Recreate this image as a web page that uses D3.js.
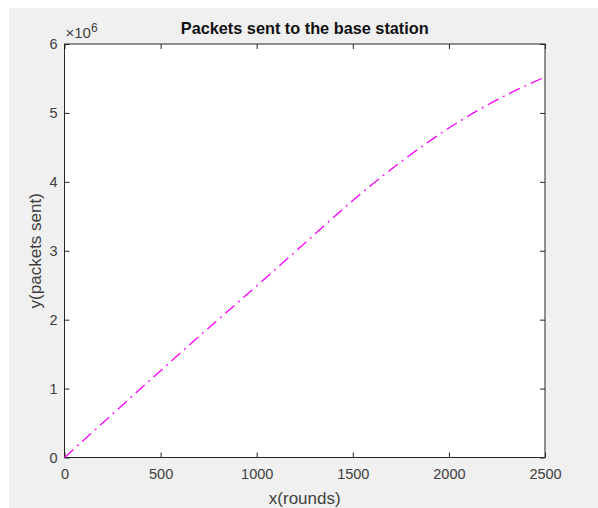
<!DOCTYPE html>
<html>
<head>
<meta charset="utf-8">
<script src="https://cdn.jsdelivr.net/npm/d3@7"></script>
<style>
  html, body { margin: 0; padding: 0; background: #ffffff; overflow: hidden; }
  svg { display: block; font-family: "Liberation Sans", Arial, sans-serif; }
  .tick text { font-size: 14.5px; fill: #404040; }
</style>
</head>
<body>
<div id="chart"></div>
<script>
// data
const rounds = [0, 250, 500, 750, 1000, 1250, 1500, 1750, 2000, 2250, 2500];
const packets = [0, 0.63e6, 1.26e6, 1.88e6, 2.49e6, 3.11e6, 3.73e6, 4.29e6, 4.78e6, 5.19e6, 5.52e6];
const xTicks = [0, 500, 1000, 1500, 2000, 2500];
const yTicks = [0, 1e6, 2e6, 3e6, 4e6, 5e6, 6e6];

const width = 598, height = 508;
const margin = { left: 64.5, top: 44, right: 53, bottom: 50.5 };
const innerWidth = width - margin.left - margin.right;
const innerHeight = height - margin.top - margin.bottom;

const svg = d3.select("#chart")
  .append("svg")
  .attr("width", width)
  .attr("height", height);

// figure background
svg.append("rect")
  .attr("x", 9).attr("y", 8)
  .attr("width", width - 9).attr("height", height - 8)
  .attr("fill", "#f0f0f0");

const inner = svg.append("g")
  .attr("transform", `translate(${margin.left},${margin.top})`);

const xScale = d3.scaleLinear().domain([0, 2500]).range([0, innerWidth]);
const yScale = d3.scaleLinear().domain([0, 6e6]).range([innerHeight, 0]);

inner.append("rect")
  .attr("width", innerWidth).attr("height", innerHeight)
  .attr("fill", "#ffffff");

// axes, ticks pointing inward like MATLAB
const axisColor = "#262626";
const styleAxis = g => {
  g.select(".domain").remove();
  g.selectAll(".tick line").attr("stroke", axisColor);
};

inner.append("g")
  .attr("transform", `translate(0,${innerHeight})`)
  .call(d3.axisBottom(xScale).tickValues(xTicks).tickSize(-5).tickPadding(11)
    .tickFormat(d3.format("d")))
  .call(styleAxis);

inner.append("g")
  .call(d3.axisTop(xScale).tickValues(xTicks).tickSize(-5).tickFormat(""))
  .call(styleAxis);

inner.append("g")
  .call(d3.axisLeft(yScale).tickValues(yTicks).tickSize(-5).tickPadding(7)
    .tickFormat(d => d / 1e6))
  .call(styleAxis);

inner.append("g")
  .attr("transform", `translate(${innerWidth},0)`)
  .call(d3.axisRight(yScale).tickValues(yTicks).tickSize(-5).tickFormat(""))
  .call(styleAxis);

// box
inner.append("rect")
  .attr("width", innerWidth).attr("height", innerHeight)
  .attr("fill", "none")
  .attr("stroke", axisColor)
  .attr("stroke-width", 1);

// curve
const line = d3.line()
  .x((d, i) => xScale(rounds[i]))
  .y(d => yScale(d))
  .curve(d3.curveMonotoneX);

inner.append("path")
  .datum(packets)
  .attr("d", line)
  .attr("fill", "none")
  .attr("stroke", "#ff00ff")
  .attr("stroke-width", 1.3)
  .attr("stroke-dasharray", "12,5,2,5");

// exponent label
const expo = svg.append("text")
  .attr("x", margin.left + 1).attr("y", 38)
  .attr("font-size", 15).attr("fill", "#404040");
expo.append("tspan").text("\u00d710");
expo.append("tspan").attr("dy", -6).attr("font-size", 12).text("6");

// title
svg.append("text")
  .attr("x", margin.left + innerWidth / 2).attr("y", 34)
  .attr("text-anchor", "middle")
  .attr("font-size", 16.3).attr("font-weight", "bold").attr("fill", "#111")
  .text("Packets sent to the base station");

// axis labels
svg.append("text")
  .attr("x", margin.left + innerWidth / 2).attr("y", 504)
  .attr("text-anchor", "middle")
  .attr("font-size", 17).attr("fill", "#404040")
  .text("x(rounds)");

svg.append("text")
  .attr("transform", `translate(41,${margin.top + innerHeight / 2}) rotate(-90)`)
  .attr("text-anchor", "middle")
  .attr("font-size", 17).attr("fill", "#404040")
  .text("y(packets sent)");
</script>
</body>
</html>
